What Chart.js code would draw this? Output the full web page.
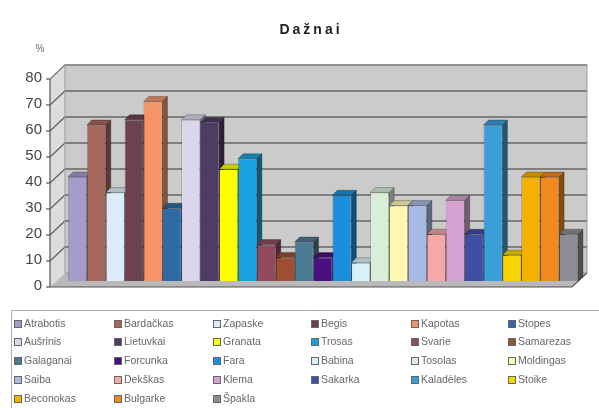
<!DOCTYPE html>
<html>
<head>
<meta charset="utf-8">
<script src="https://cdn.jsdelivr.net/npm/chart.js@4.4.1/dist/chart.umd.min.js"></script>
<style>
html,body{margin:0;padding:0;background:#fff;}
#wrap{width:599px;height:408px;position:relative;}
</style>
</head>
<body>
<div id="wrap"><canvas id="c" width="599" height="408"></canvas></div>
<script>
const titleText = "Dažnai";
const unitText = "%";
const names = ["Atrabotis","Bardačkas","Zapaske","Begis","Kapotas","Stopes",
  "Aušrinis","Lietuvkai","Granata","Trosas","Svarie","Samarezas",
  "Galaganai","Forcunka","Fara","Babina","Tosolas","Moldingas",
  "Saiba","Dekškas","Klema","Sakarka","Kaladėles","Stoike",
  "Beconokas","Bulgarke","Špakla"];
const values = [40,60,34,62,69,28,
  62,61,43,47,14,9,
  15,9,33,7,34,29,
  29,18,31,18,60,10,
  40,40,18];
const yTicks = [0,10,20,30,40,50,60,70,80];
const colors = ["#a49bcc","#a8675c","#dcedf9","#6c4150","#f59566","#2d6aa6",
  "#ddd5ec","#4e3c64","#ffff00","#18a3e0","#904b5f","#9e4f33",
  "#4b7b92","#4a1082","#1b8fdc","#d8f0fa","#d9eed9","#fff7b2",
  "#a7bae3","#f5a8a6","#d5a1d1","#3f4fa6","#3a9fd6","#f7d300",
  "#f5b100","#f08a1e","#8d8d96"];

function shade(hex, f){
  const n = parseInt(hex.slice(1),16);
  let r=(n>>16)&255,g=(n>>8)&255,b=n&255;
  if(f<1){r*=f;g*=f;b*=f;}else{r=r+(255-r)*(f-1);g=g+(255-g)*(f-1);b=b+(255-b)*(f-1);}
  return `rgb(${Math.round(r)},${Math.round(g)},${Math.round(b)})`;
}

const BDX=5, BDY=5;

const frame3d = {
  id:'frame3d',
  beforeDatasetsDraw(chart){
    const ctx=chart.ctx, y=chart.scales.y;
    const Y=v=>y.getPixelForValue(v);
    const fx=50, bx=65, fr=572, br=587;
    ctx.save();
    ctx.fillStyle='#cbcbcb';
    ctx.fillRect(bx, Y(80)-8, br-bx, Y(0)-Y(80));
    ctx.fillStyle='#dcdcdc';
    ctx.beginPath();
    ctx.moveTo(fx,Y(80)+6);ctx.lineTo(bx,Y(80)-8);ctx.lineTo(bx,Y(0)-8);ctx.lineTo(fx,Y(0)+6);ctx.closePath();ctx.fill();
    ctx.fillStyle='#b9b9b9';
    ctx.beginPath();
    ctx.moveTo(fx,Y(0)+6);ctx.lineTo(bx,Y(0)-8);ctx.lineTo(br,Y(0)-8);ctx.lineTo(fr,Y(0)+6);ctx.closePath();ctx.fill();
    ctx.strokeStyle='#666';ctx.lineWidth=1.3;
    yTicks.forEach(v=>{
      if(v===0) return;
      ctx.beginPath();
      ctx.moveTo(fx,Y(v)+6);ctx.lineTo(bx,Y(v)-8);ctx.lineTo(br,Y(v)-8);ctx.stroke();
    });
    ctx.strokeStyle='#9a9a9a';ctx.lineWidth=1;
    ctx.beginPath();ctx.moveTo(bx,Y(80)-8);ctx.lineTo(bx,Y(0)-8);ctx.lineTo(br,Y(0)-8);ctx.stroke();
    ctx.beginPath();ctx.moveTo(fx,Y(80)+6);ctx.lineTo(bx,Y(80)-8);ctx.lineTo(br,Y(80)-8);ctx.lineTo(br,Y(0)-8);ctx.stroke();
    ctx.strokeStyle='#555';ctx.lineWidth=1.2;
    ctx.beginPath();ctx.moveTo(fx,Y(80)+6);ctx.lineTo(fx,Y(0)+6);ctx.lineTo(fr,Y(0)+6);ctx.lineTo(br,Y(0)-8);ctx.stroke();
    yTicks.forEach(v=>{ctx.beginPath();ctx.moveTo(fx-4,Y(v)+6);ctx.lineTo(fx,Y(v)+6);ctx.stroke();});
    const metas = chart.data.datasets.map((d,i)=>chart.getDatasetMeta(i));
    metas.forEach((m,i)=>{
      const el=m.data[0]; if(!el) return;
      const x2=el.x+el.width/2, top=el.y, bot=el.base;
      ctx.fillStyle=shade(colors[i],0.55);
      ctx.beginPath();ctx.moveTo(x2,top);ctx.lineTo(x2+BDX,top-BDY);ctx.lineTo(x2+BDX,bot-BDY);ctx.lineTo(x2,bot);ctx.closePath();ctx.fill();
      ctx.strokeStyle='rgba(0,0,0,0.35)';ctx.lineWidth=0.7;ctx.stroke();
    });
    metas.forEach((m,i)=>{
      const el=m.data[0]; if(!el) return;
      const x1=el.x-el.width/2, x2=el.x+el.width/2, top=el.y;
      ctx.fillStyle=shade(colors[i],0.8);
      ctx.beginPath();ctx.moveTo(x1,top);ctx.lineTo(x1+BDX,top-BDY);ctx.lineTo(x2+BDX,top-BDY);ctx.lineTo(x2,top);ctx.closePath();ctx.fill();
      ctx.strokeStyle='rgba(0,0,0,0.35)';ctx.lineWidth=0.7;ctx.stroke();
    });
    ctx.restore();
  },
  afterDraw(chart){
    const ctx=chart.ctx;
    ctx.save();
    ctx.fillStyle='#222';
    ctx.font='bold 14px Arial, "Liberation Sans", sans-serif';
    ctx.letterSpacing='3px';
    ctx.textAlign='center';ctx.textBaseline='middle';
    ctx.fillText(titleText,311,30);
    ctx.letterSpacing='0px';
    ctx.fillStyle='#666';
    ctx.font='10px Arial, "Liberation Sans", sans-serif';
    ctx.fillText(unitText,40,49);
    ctx.strokeStyle='#b0b0b0';ctx.lineWidth=1;
    ctx.beginPath();ctx.moveTo(599,310.5);ctx.lineTo(11.5,310.5);ctx.lineTo(11.5,408);ctx.stroke();
    const colX=[18,118,217,315,415,512], rowY=[324,342,361,380,399];
    ctx.font='10.5px Arial, "Liberation Sans", sans-serif';
    ctx.textAlign='left';ctx.textBaseline='middle';
    chart.data.datasets.forEach((d,i)=>{
      const cx=colX[i%6], cy=rowY[Math.floor(i/6)];
      ctx.fillStyle=d.backgroundColor;
      ctx.fillRect(cx-3.5,cy-3.5,7,7);
      ctx.strokeStyle='#666';ctx.lineWidth=1;
      ctx.strokeRect(cx-3.5,cy-3.5,7,7);
      ctx.fillStyle='#666';
      ctx.fillText(d.label,cx+6,cy+0.5);
    });
    ctx.restore();
  }
};

new Chart(document.getElementById('c'),{
  type:'bar',
  data:{
    labels:[''],
    datasets:names.map((n,i)=>({
      label:n,
      data:[values[i]],
      backgroundColor:colors[i],
      borderColor:'rgba(0,0,0,0.35)',
      borderWidth:0.7
    }))
  },
  options:{
    responsive:false,
    animation:false,
    layout:{padding:{top:73,bottom:127,left:0,right:3}},
    datasets:{bar:{categoryPercentage:0.934,barPercentage:1}},
    plugins:{legend:{display:false},title:{display:false},tooltip:{enabled:false}},
    scales:{
      x:{display:false},
      y:{
        min:0,max:80,
        grid:{display:false,drawTicks:false},
        border:{display:false},
        afterFit(s){s.width=50;},
        afterBuildTicks(s){s.ticks=yTicks.map(v=>({value:v}));},
        ticks:{stepSize:10,padding:8,labelOffset:5,color:'#444',
          font:{family:'Arial, "Liberation Sans", sans-serif',size:15}}
      }
    }
  },
  plugins:[frame3d]
});
</script>
</body>
</html>
